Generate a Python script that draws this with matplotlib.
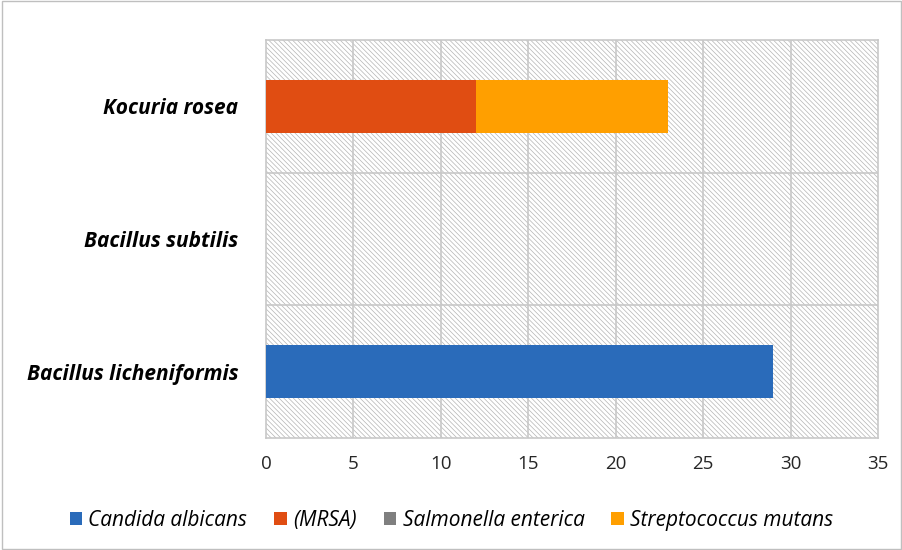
import matplotlib.pyplot as plt
from matplotlib.patches import Rectangle
import numpy as np

categories = ["Bacillus licheniformis", "Bacillus subtilis", "Kocuria rosea"]
series_names = ["Candida albicans", "(MRSA)", "Salmonella enterica", "Streptococcus mutans"]
candida = [29, 0, 0]
mrsa = [0, 0, 12]
salmonella = [0, 0, 0]
strepto = [0, 0, 11]
colors = ["#2A6BBA", "#E04D12", "#7F7F7F", "#FF9F00"]

plt.rcParams["font.family"] = ["Open Sans", "DejaVu Sans"]
plt.rcParams["hatch.color"] = "#B4B4B4"
plt.rcParams["hatch.linewidth"] = 0.5

fig = plt.figure(figsize=(9.03, 5.5), dpi=100)
ax = fig.add_axes([0.2946, 0.2036, 0.6777, 0.7236])

# hatched plot background
ax.add_patch(Rectangle((0, 0), 1, 1, transform=ax.transAxes, facecolor="white",
                       edgecolor="#B4B4B4", hatch="\\" * 7, linewidth=0, zorder=0))

y = np.arange(len(categories))
left = np.zeros(len(categories))
for name, vals, c in zip(series_names, [candida, mrsa, salmonella, strepto], colors):
    ax.barh(y, vals, height=0.4, left=left, color=c, label=name, zorder=3)
    left = left + np.array(vals)

ax.set_xlim(0, 35)
ax.set_ylim(-0.5, 2.5)
ax.set_xticks(range(0, 36, 5))
ax.set_yticks(y)
ax.set_yticklabels(categories, fontsize=15, fontstyle="italic", fontweight="bold")
ax.tick_params(axis="x", labelsize=13.5, length=0, pad=12)
ax.tick_params(axis="y", length=0, pad=20)
for lbl in ax.get_xticklabels():
    lbl.set_color("#262626")

for xv in range(5, 35, 5):
    ax.axvline(xv, color="#C8C8C8", linewidth=1.2, zorder=1)
for yv in [0.5, 1.5]:
    ax.axhline(yv, color="#C8C8C8", linewidth=1.2, zorder=1)
for s in ax.spines.values():
    s.set_color("#C8C8C8")
    s.set_linewidth(1.2)

leg = fig.legend(loc="center", bbox_to_anchor=(0.5, 0.054), ncol=4, frameon=False,
                 prop={"style": "italic", "size": 15}, handlelength=0.6, handleheight=0.6,
                 handletextpad=0.3, columnspacing=1.3)

# outer frame
fig.add_artist(Rectangle((0.002, 0.002), 0.996, 0.996, transform=fig.transFigure,
                         fill=False, edgecolor="#BFBFBF", linewidth=1))

fig.savefig("out.png", dpi=100)
